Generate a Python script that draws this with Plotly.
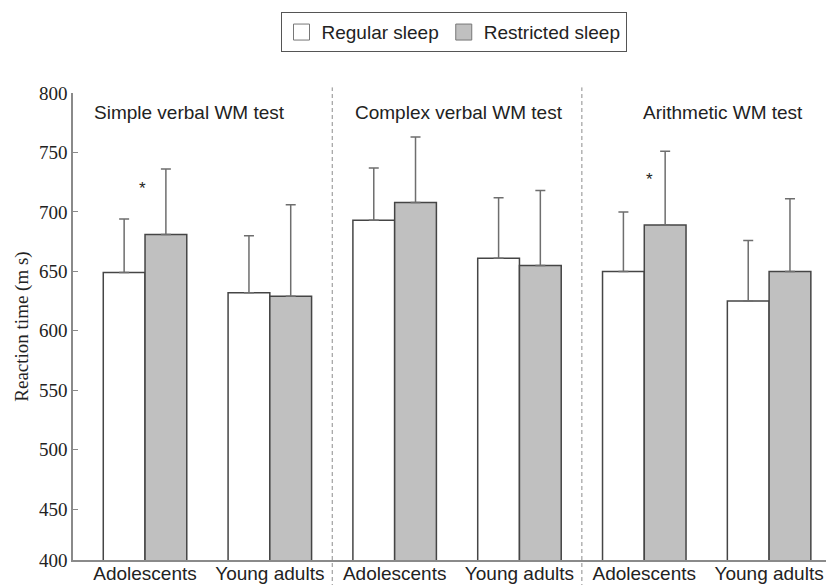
import plotly.graph_objects as go

# ---- data ----
categories = ["Adolescents", "Young adults", "Adolescents", "Young adults", "Adolescents", "Young adults"]
panel_titles = ["Simple verbal WM test", "Complex verbal WM test", "Arithmetic WM test"]
regular_sleep = [649, 632, 693, 661, 650, 625]
regular_err = [45, 48, 44, 51, 50, 51]
restricted_sleep = [681, 629, 708, 655, 689, 650]
restricted_err = [55, 77, 55, 63, 62, 61]
y_tick_values = [407.3, 450, 500, 550, 600, 650, 700, 750, 800]
y_tick_labels = ["400", "450", "500", "550", "600", "650", "700", "750", "800"]
significant = [True, False, False, False, True, False]
star_values = [720, None, None, None, 727, None]

x_pos = list(range(len(categories)))

SANS = "Liberation Sans, Arial, sans-serif"
SERIF = "Liberation Serif, Times New Roman, serif"
TXT = "#222222"
AX = "#8a8a8a"
EDGE = "#454545"
GRAY = "#c0c0c0"

fig = go.Figure()
fig.add_trace(go.Bar(
    x=x_pos, y=regular_sleep, name="Regular sleep", showlegend=False,
    marker=dict(color="white", line=dict(color=EDGE, width=1.5)),
    error_y=dict(type="data", array=regular_err, arrayminus=[0] * 6, symmetric=False,
                 color="#6e6e6e", thickness=1.5, width=5),
))
fig.add_trace(go.Bar(
    x=x_pos, y=restricted_sleep, name="Restricted sleep", showlegend=False,
    marker=dict(color=GRAY, line=dict(color=EDGE, width=1.5)),
    error_y=dict(type="data", array=restricted_err, arrayminus=[0] * 6, symmetric=False,
                 color="#6e6e6e", thickness=1.5, width=5),
))
# legend entries
for name, col in [("Regular sleep", "white"), ("Restricted sleep", GRAY)]:
    fig.add_trace(go.Scatter(
        x=[None], y=[None], mode="markers", name=name,
        marker=dict(symbol="square", size=22, color=col, line=dict(color="#777777", width=1)),
    ))

# significance stars
for i, (sig, v) in enumerate(zip(significant, star_values)):
    if sig:
        fig.add_annotation(x=x_pos[i] + (0.04 if i > 2 else -0.02), y=v, text="*", showarrow=False,
                           font=dict(family=SANS, size=17, color=TXT), xref="x", yref="y")

# panel titles
title_x = [-0.425, 2.516, 4.63]
title_anchor = ["left", "center", "center"]
for t, xx, an in zip(panel_titles, title_x, title_anchor):
    fig.add_annotation(x=xx, y=783.6, text=t, showarrow=False, xanchor=an, yanchor="middle",
                       font=dict(family=SANS, size=19, color=TXT), xref="x", yref="y")

# dashed separators between panels
for sep in [1.5, 3.5]:
    fig.add_shape(type="line", xref="x", yref="paper", x0=sep, x1=sep, y0=-0.06, y1=1.012,
                  line=dict(color="#8c8c8c", width=1, dash="4px,3px"))

# the page body adds an 8px offset, so the figure is 8px smaller and margins shifted
fig.update_layout(
    width=826, height=577,
    margin=dict(l=65, r=0, t=85, b=25),
    plot_bgcolor="white", paper_bgcolor="white",
    barmode="group", bargap=0.331, bargroupgap=0,
    showlegend=True,
    legend=dict(orientation="h", x=0.5, xanchor="center", xref="paper",
                y=1.173, yanchor="top",
                font=dict(family=SANS, size=19, color=TXT),
                bordercolor="#555555", borderwidth=1, bgcolor="white"),
    xaxis=dict(range=[-0.577, 5.52], tickmode="array", tickvals=x_pos, ticktext=categories,
               showline=True, linecolor=AX, linewidth=1.5, ticks="", showgrid=False, zeroline=False,
               automargin=False, ticklabelstandoff=-5,
               tickfont=dict(family=SANS, size=19, color=TXT)),
    yaxis=dict(range=[407.3, 800], tickmode="array", tickvals=y_tick_values, ticktext=y_tick_labels,
               showline=True, linecolor=AX, linewidth=1.5, ticks="inside", ticklen=5, tickcolor=AX,
               showgrid=False, zeroline=False, automargin=False,
               tickfont=dict(family=SERIF, size=19, color=TXT),
               title=dict(text="Reaction time (m s)", font=dict(family=SERIF, size=19, color=TXT), standoff=5)),
)

fig.write_html("out.html")
